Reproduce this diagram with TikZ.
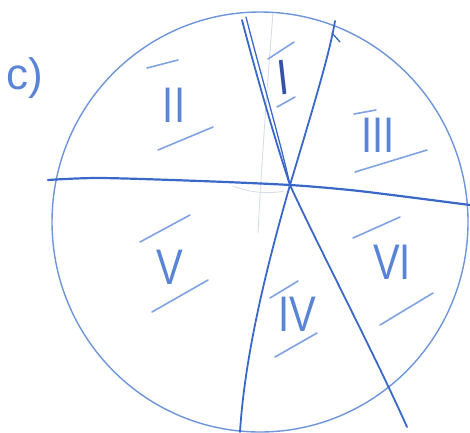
\documentclass[tikz,border=0pt]{standalone}
\usepackage{fontspec}
\setmainfont{Liberation Sans}
\definecolor{rimblue}{HTML}{6E94DA}
\definecolor{cutblue}{HTML}{3A68C8}
\definecolor{barblue}{HTML}{7FA2E2}
\definecolor{numblue}{HTML}{5A84D6}
\definecolor{darknum}{HTML}{3450A8}
\definecolor{faintgray}{HTML}{D8DEE8}
\begin{document}
\begin{tikzpicture}[x=1pt,y=-1pt,
  pen/.style={line cap=round,line join=round},
  rim/.style={pen,draw=rimblue,line width=1.4pt},
  cut/.style={pen,draw=cutblue,line width=1.8pt},
  bar/.style={pen,draw=barblue,line width=1.6pt},
  faint/.style={pen,draw=faintgray,line width=0.9pt},
  num/.style={text=numblue,font=\fontsize{40}{40}\selectfont,inner sep=0pt,yscale=1.25},
]
\useasboundingbox (0,0) rectangle (470,432);
\clip (0,0) rectangle (470,432);

% faint construction strokes
\coordinate (F1) at (273,13);
\coordinate (F2) at (258,233);
\draw[faint] (F1) .. controls (266,100) and (260,190) .. (F2);
\draw[faint] (233,186) .. controls (250,193) and (270,194) .. (284,191);

% outer circle
\coordinate (O) at (260,222);
\draw[rim] (O) ellipse [x radius=208, y radius=210];

% centre
\coordinate (C) at (290,185);

% horizontal cut
\coordinate (Hl) at (48,180);
\coordinate (Hr) at (470,205);
\draw[cut,line width=2.2pt] plot[smooth, tension=0.5] coordinates
  {(Hl) (100,178) (200,181) (C) (350,190) (400,196) (Hr)};

% cut A (doubled upper stroke)
\coordinate (A1) at (242,20);
\coordinate (A2) at (246,17);
\coordinate (A3) at (407,427);
\draw[cut] (A1) .. controls (255,70) and (275,140) .. (C);
\draw[cut,line width=1.3pt] (A2) .. controls (259,68) and (280,140) .. (C);
\draw[cut] (C) .. controls (315,240) and (375,355) .. (A3);

% cut B
\coordinate (B1) at (335,21);
\coordinate (B2) at (240,432);
\draw[cut] (B1) .. controls (330,50) and (320,85) .. (C);
\draw[cut] (C) .. controls (270,255) and (245,350) .. (B2);
\draw[cut,line width=1.3pt] (332,33) -- (340,42);

% labels with bars
\node[num,text=darknum,rotate=8] (n1) at (283,77) {I};
\draw[bar] (268,59) -- (294,42);
\draw[bar] (277,107) -- (295,97);

\node[num] (n2) at (174,105) {II};
\draw[bar] (147,68) -- (178,60);
\draw[bar] (158,150) -- (213,127);

\node[num] (n3) at (378,135) {III};
\draw[bar] (354,114) -- (376,110);
\draw[bar] (355,172) -- (427,150);

\node[num] (n4) at (297,314) {IV};
\draw[bar] (270,298) -- (298,281);
\draw[bar] (275,357) -- (317,333);

\node[num] (n5) at (170,267) {V};
\draw[bar] (140,242) -- (190,215);
\draw[bar] (152,312) -- (208,280);

\node[num] (n6) at (392,262) {VI};
\draw[bar] (353,238) -- (400,217);
\draw[bar] (380,325) -- (433,293);

% part label
\node[text=numblue,font=\fontsize{44}{44}\selectfont,inner sep=0pt] (lab) at (25,78) {c)};
\end{tikzpicture}
\end{document}
